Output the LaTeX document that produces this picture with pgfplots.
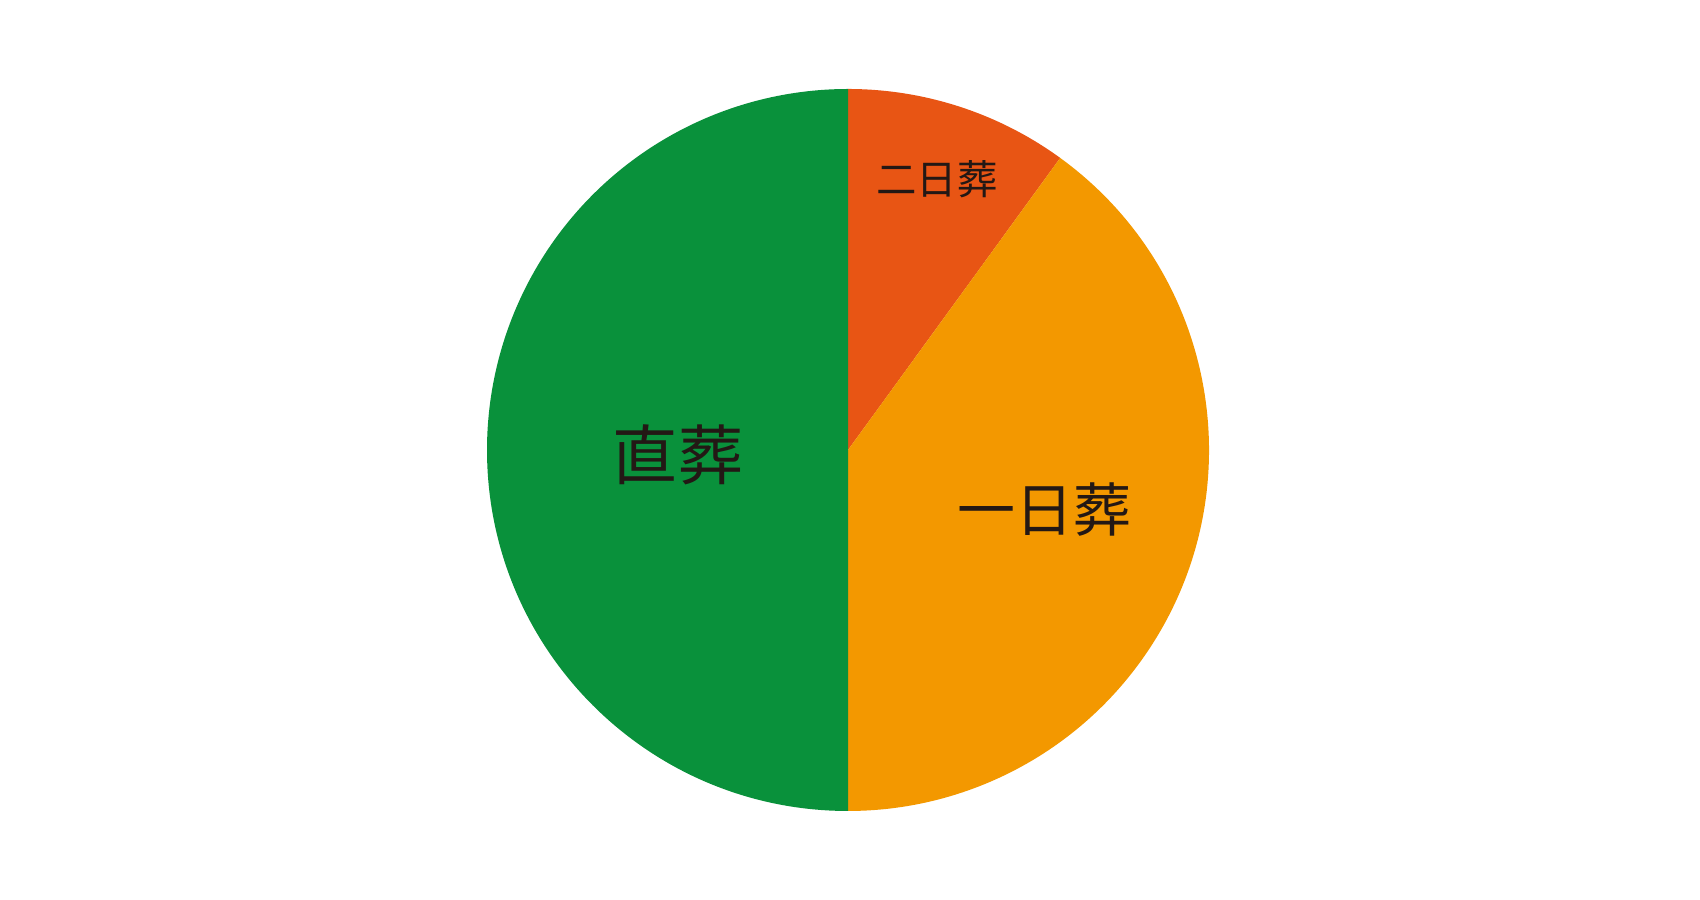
\documentclass[border=0pt]{standalone}
\usepackage{pgfplots}
\pgfplotsset{compat=1.18}
\usepackage{fontspec}
\newfontfamily\cjk{Noto Sans CJK JP}
\definecolor{cGreen}{HTML}{09913B}
\definecolor{cRed}{HTML}{E85514}
\definecolor{cOrange}{HTML}{F39800}
\definecolor{cText}{HTML}{231815}
% slice values (percent), clockwise from 12 o'clock
\def\vNi{10}   % 二日葬
\def\vIchi{40} % 一日葬
\def\vChoku{50}% 直葬
\begin{document}
\begin{tikzpicture}
\begin{axis}[
  width=17cm, height=9cm, scale only axis,
  xmin=0, xmax=1700, ymin=0, ymax=900,
  hide axis, clip=false,
]
\path (axis cs:0,0) rectangle (axis cs:1700,900);
\pgfmathsetmacro{\aA}{90}
\pgfmathsetmacro{\aB}{90-3.6*\vNi}
\pgfmathsetmacro{\aC}{\aB-3.6*\vIchi}
\pgfmathsetmacro{\aD}{\aC-3.6*\vChoku}
\fill[cRed] (axis cs:848,450) -- ([shift={(\aA:3.61cm)}]axis cs:848,450) arc[start angle=\aA, end angle=\aB, radius=3.61cm] -- cycle;
\fill[cOrange] (axis cs:848,450) -- ([shift={(\aB:3.61cm)}]axis cs:848,450) arc[start angle=\aB, end angle=\aC, radius=3.61cm] -- cycle;
\fill[cGreen] (axis cs:848,450) -- ([shift={(\aC:3.61cm)}]axis cs:848,450) arc[start angle=\aC, end angle=\aD, radius=3.61cm] -- cycle;
\node[text=cText, font=\cjk\fontsize{11.5pt}{12pt}\selectfont] at (axis cs:937,721) {二日葬};
\node[text=cText, font=\cjk\fontsize{18.5pt}{20pt}\selectfont] at (axis cs:678,445) {直葬};
\node[text=cText, font=\cjk\fontsize{16.5pt}{18pt}\selectfont] at (axis cs:1044,390) {一日葬};
\end{axis}
\end{tikzpicture}
\end{document}
